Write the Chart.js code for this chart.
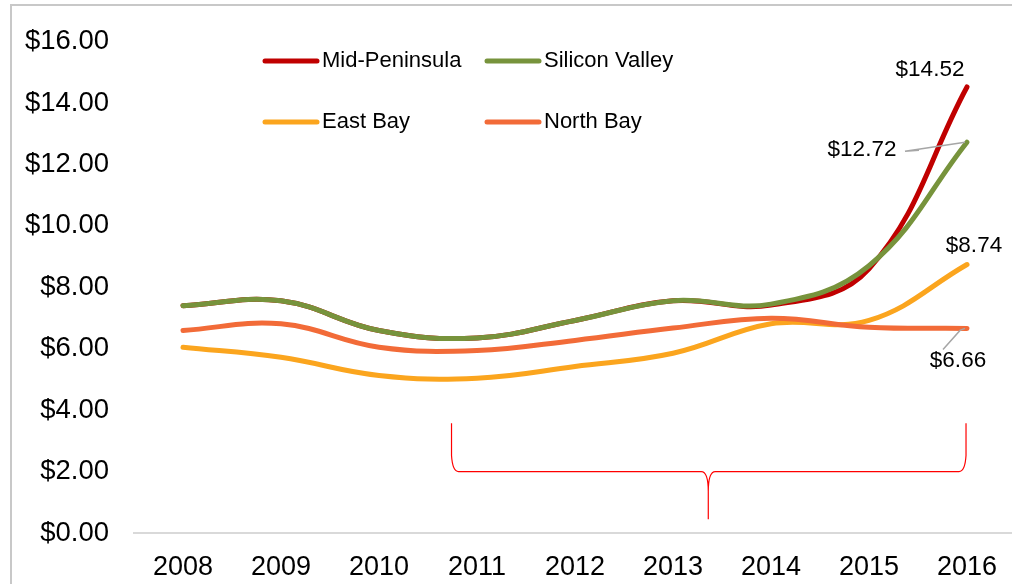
<!DOCTYPE html>
<html>
<head>
<meta charset="utf-8">
<script src="https://cdn.jsdelivr.net/npm/chart.js@4"></script>
<style>
    body { margin: 0; overflow: hidden; background: #fff; }
    #wrap { width: 1012px; height: 584px; overflow: hidden; }
</style>
</head>
<body>
<div id="wrap"><canvas id="wageChart" width="1016" height="584"></canvas></div>
<script>
const years = ["2008", "2009", "2010", "2011", "2012", "2013", "2014", "2015", "2016"];
const midPeninsula = [7.40, 7.56, 6.59, 6.35, 6.92, 7.56, 7.42, 8.60, 14.52];
const siliconValley = [7.40, 7.56, 6.59, 6.35, 6.92, 7.56, 7.45, 8.70, 12.72];
const eastBay = [6.05, 5.72, 5.13, 5.04, 5.42, 5.85, 6.81, 6.92, 8.74];
const northBay = [6.59, 6.81, 6.05, 5.94, 6.27, 6.67, 6.99, 6.70, 6.66];
const yTicks = [0, 2, 4, 6, 8, 10, 12, 14, 16];

const FONT = "'Liberation Sans', Arial, sans-serif";

// grey frame on the left / top edge like the exported picture
const framePlugin = {
    id: "frame",
    beforeDraw(chart) {
        const ctx = chart.ctx;
        ctx.save();
        ctx.strokeStyle = "#C8C8C8";
        ctx.lineWidth = 2;
        ctx.beginPath();
        ctx.moveTo(11, chart.height);
        ctx.lineTo(11, 5);
        ctx.lineTo(chart.width, 5);
        ctx.stroke();
        ctx.restore();
    }
};

// legend in 2 columns inside the plot
const legendPlugin = {
    id: "gridLegend",
    afterDraw(chart) {
        const ctx = chart.ctx;
        const cols = [263, 485];
        const rows = [61, 122];
        ctx.save();
        ctx.font = "22px " + FONT;
        ctx.textBaseline = "middle";
        chart.data.datasets.forEach((ds, i) => {
            const x = cols[i % 2];
            const y = rows[Math.floor(i / 2)];
            ctx.strokeStyle = ds.borderColor;
            ctx.lineWidth = 5;
            ctx.lineCap = "round";
            ctx.beginPath();
            ctx.moveTo(x + 2, y);
            ctx.lineTo(x + 54, y);
            ctx.stroke();
            ctx.fillStyle = "#000";
            ctx.fillText(ds.label, x + 59, y);
        });
        ctx.restore();
    }
};

// end-of-line value labels + the red brace
const labelPlugin = {
    id: "endLabels",
    afterDatasetsDraw(chart) {
        const ctx = chart.ctx;
        const offsets = [
            { dx: -37, dy: -17, leader: null },
            { dx: -105, dy: 8, leader: [[-62, 9], [-48, 8]] },
            { dx: 7, dy: -19, leader: null },
            { dx: -9, dy: 32, leader: [[-7, 2], [-24, 21]] }
        ];
        ctx.save();
        ctx.font = "22.5px " + FONT;
        ctx.textAlign = "center";
        ctx.textBaseline = "middle";
        chart.data.datasets.forEach((ds, i) => {
            const meta = chart.getDatasetMeta(i);
            const pt = meta.data[meta.data.length - 1];
            const v = ds.data[ds.data.length - 1];
            const o = offsets[i];
            if (o.leader) {
                ctx.strokeStyle = "#A6A6A6";
                ctx.lineWidth = 1.5;
                ctx.beginPath();
                ctx.moveTo(pt.x + o.leader[1][0], pt.y + o.leader[1][1]);
                ctx.lineTo(pt.x + o.leader[0][0], pt.y + o.leader[0][1]);
                ctx.lineTo(pt.x - 2, pt.y);
                ctx.stroke();
            }
            ctx.fillStyle = "#000";
            ctx.fillText("$" + v.toFixed(2), pt.x + o.dx, pt.y + o.dy);
        });

        // brace under 2011-2016
        const xs = chart.scales.x, ys = chart.scales.y;
        const L = xs.getPixelForValue(2.74);
        const R = xs.getPixelForValue(7.99);
        const M = xs.getPixelForValue(5.36);
        const top = ys.getPixelForValue(3.57);
        const mid = ys.getPixelForValue(2.0);
        const tip = ys.getPixelForValue(0.45);
        ctx.strokeStyle = "#FF0000";
        ctx.lineWidth = 1.2;
        ctx.beginPath();
        ctx.moveTo(L, top);
        ctx.lineTo(L, mid - 16);
        ctx.quadraticCurveTo(L + 1, mid, L + 7, mid);
        ctx.lineTo(M - 7, mid);
        ctx.quadraticCurveTo(M, mid, M, mid + 20);
        ctx.lineTo(M, tip);
        ctx.moveTo(M, mid + 20);
        ctx.quadraticCurveTo(M, mid, M + 7, mid);
        ctx.lineTo(R - 7, mid);
        ctx.quadraticCurveTo(R - 1, mid, R, mid - 16);
        ctx.lineTo(R, top);
        ctx.stroke();
        ctx.restore();
    }
};

function makeLine(label, data, color, order) {
    return {
        label: label,
        data: data,
        borderColor: color,
        backgroundColor: color,
        borderWidth: 5,
        borderCapStyle: "round",
        pointRadius: 0,
        pointHoverRadius: 0,
        tension: 0.4,
        fill: false,
        order: order
    };
}

const ctx = document.getElementById("wageChart").getContext("2d");
new Chart(ctx, {
    type: "line",
    data: {
        labels: years,
        datasets: [
            makeLine("Mid-Peninsula", midPeninsula, "#C00000", 2),
            makeLine("Silicon Valley", siliconValley, "#77933C", 0),
            makeLine("East Bay", eastBay, "#FBA51E", 3),
            makeLine("North Bay", northBay, "#F26B38", 1)
        ]
    },
    options: {
        responsive: false,
        devicePixelRatio: 1,
        animation: false,
        layout: { padding: { top: 40, right: 0, bottom: 0, left: 0 } },
        plugins: {
            legend: { display: false },
            tooltip: { enabled: false }
        },
        scales: {
            x: {
                offset: true,
                grid: { display: false, drawTicks: false },
                border: { display: true, color: "#D9D9D9", width: 2 },
                ticks: {
                    color: "#000",
                    padding: 18,
                    maxRotation: 0,
                    font: { family: FONT, size: 27 }
                },
                afterFit(scale) { scale.height = 51; }
            },
            y: {
                min: 0,
                max: 16,
                grid: { display: false, drawTicks: false },
                border: { display: false },
                afterBuildTicks(scale) { scale.ticks = yTicks.map(v => ({ value: v })); },
                ticks: {
                    color: "#000",
                    padding: 25,
                    font: { family: FONT, size: 27.5 },
                    callback: v => "$" + Number(v).toFixed(2)
                },
                afterFit(scale) { scale.width = 134; }
            }
        }
    },
    plugins: [framePlugin, legendPlugin, labelPlugin]
});
</script>
</body>
</html>
